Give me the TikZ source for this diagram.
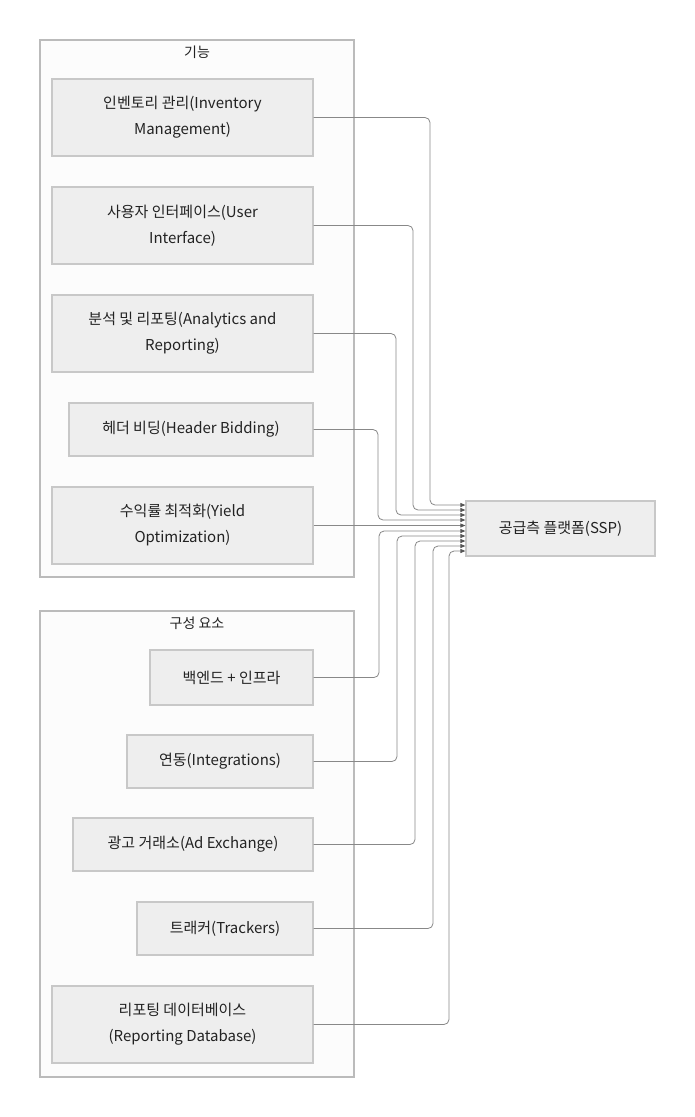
\documentclass[tikz,border=0pt]{standalone}
\usepackage{fontspec}
\setmainfont{Noto Sans CJK KR}
\usetikzlibrary{arrows.meta}
\definecolor{contfill}{HTML}{FCFCFC}
\definecolor{contdraw}{HTML}{BBBBBB}
\definecolor{boxfill}{HTML}{EEEEEE}
\definecolor{boxdraw}{HTML}{C8C8C8}
\definecolor{edgecol}{HTML}{888888}
\definecolor{tipcol}{HTML}{555555}
\definecolor{txt}{HTML}{222222}
\tikzset{
  container/.style={draw=contdraw, fill=contfill, line width=1.2pt},
  ctitle/.style={font=\fontsize{14}{16}\selectfont, text=txt, anchor=center},
  boxnode/.style={draw=boxdraw, fill=boxfill, line width=1.2pt, align=center, inner sep=0pt,
    font=\fontsize{15}{26}\selectfont, text=txt},
  edge/.style={draw=edgecol, line width=0.8pt, rounded corners=5pt,
    -{Triangle[length=5pt,width=4pt,fill=tipcol,color=tipcol]}},
}
\begin{document}
\begin{tikzpicture}[x=1pt,y=-1pt]
\useasboundingbox (0,0) rectangle (695,1117);
\fill[white] (0,0) rectangle (695,1117);
% containers
\draw[container] (40,40) rectangle (354,577);
\node[ctitle] (t1) at (197,52) {기능};
\draw[container] (40,611) rectangle (354,1077);
\node[ctitle] (t2) at (197,623) {구성 요소};
% nodes
\node[boxnode, minimum width=261pt, minimum height=77pt] (inv) at (182.5,117.5) {인벤토리 관리(Inventory\\Management)};
\node[boxnode, minimum width=261pt, minimum height=77pt] (ui) at (182.5,225.5) {사용자 인터페이스(User\\Interface)};
\node[boxnode, minimum width=261pt, minimum height=77pt] (ana) at (182.5,333.5) {분석 및 리포팅(Analytics and\\Reporting)};
\node[boxnode, minimum width=244pt, minimum height=53pt] (hdr) at (191,429.5) {헤더 비딩(Header Bidding)};
\node[boxnode, minimum width=261pt, minimum height=77pt] (yld) at (182.5,525.5) {수익률 최적화(Yield\\Optimization)};
\node[boxnode, minimum width=163pt, minimum height=55pt] (bk) at (231.5,677.5) {백엔드 + 인프라};
\node[boxnode, minimum width=186pt, minimum height=53pt] (int) at (220,761.5) {연동(Integrations)};
\node[boxnode, minimum width=240pt, minimum height=53pt] (adx) at (193,844.5) {광고 거래소(Ad Exchange)};
\node[boxnode, minimum width=176pt, minimum height=53pt] (trk) at (225,928.5) {트래커(Trackers)};
\node[boxnode, minimum width=261pt, minimum height=77pt] (rdb) at (182.5,1024.5) {리포팅 데이터베이스\\(Reporting Database)};
\node[boxnode, minimum width=189pt, minimum height=55pt] (ssp) at (560.5,528.5) {공급측 플랫폼(SSP)};
% edges
\draw[edge] (inv.east) -| (430,505) -- (ssp.west |- {(0,505)});
\draw[edge] (ui.east) -| (413,510) -- (ssp.west |- {(0,510)});
\draw[edge] (ana.east) -| (396,515) -- (ssp.west |- {(0,515)});
\draw[edge] (hdr.east) -| (378,520) -- (ssp.west |- {(0,520)});
\draw[edge] (yld.east) -- (yld.east -| ssp.west);
\draw[edge] (bk.east) -| (379,531) -- (ssp.west |- {(0,531)});
\draw[edge] (int.east) -| (397,536) -- (ssp.west |- {(0,536)});
\draw[edge] (adx.east) -| (415,541) -- (ssp.west |- {(0,541)});
\draw[edge] (trk.east) -| (433,546) -- (ssp.west |- {(0,546)});
\draw[edge] (rdb.east) -| (449,551) -- (ssp.west |- {(0,551)});
\end{tikzpicture}
\end{document}
